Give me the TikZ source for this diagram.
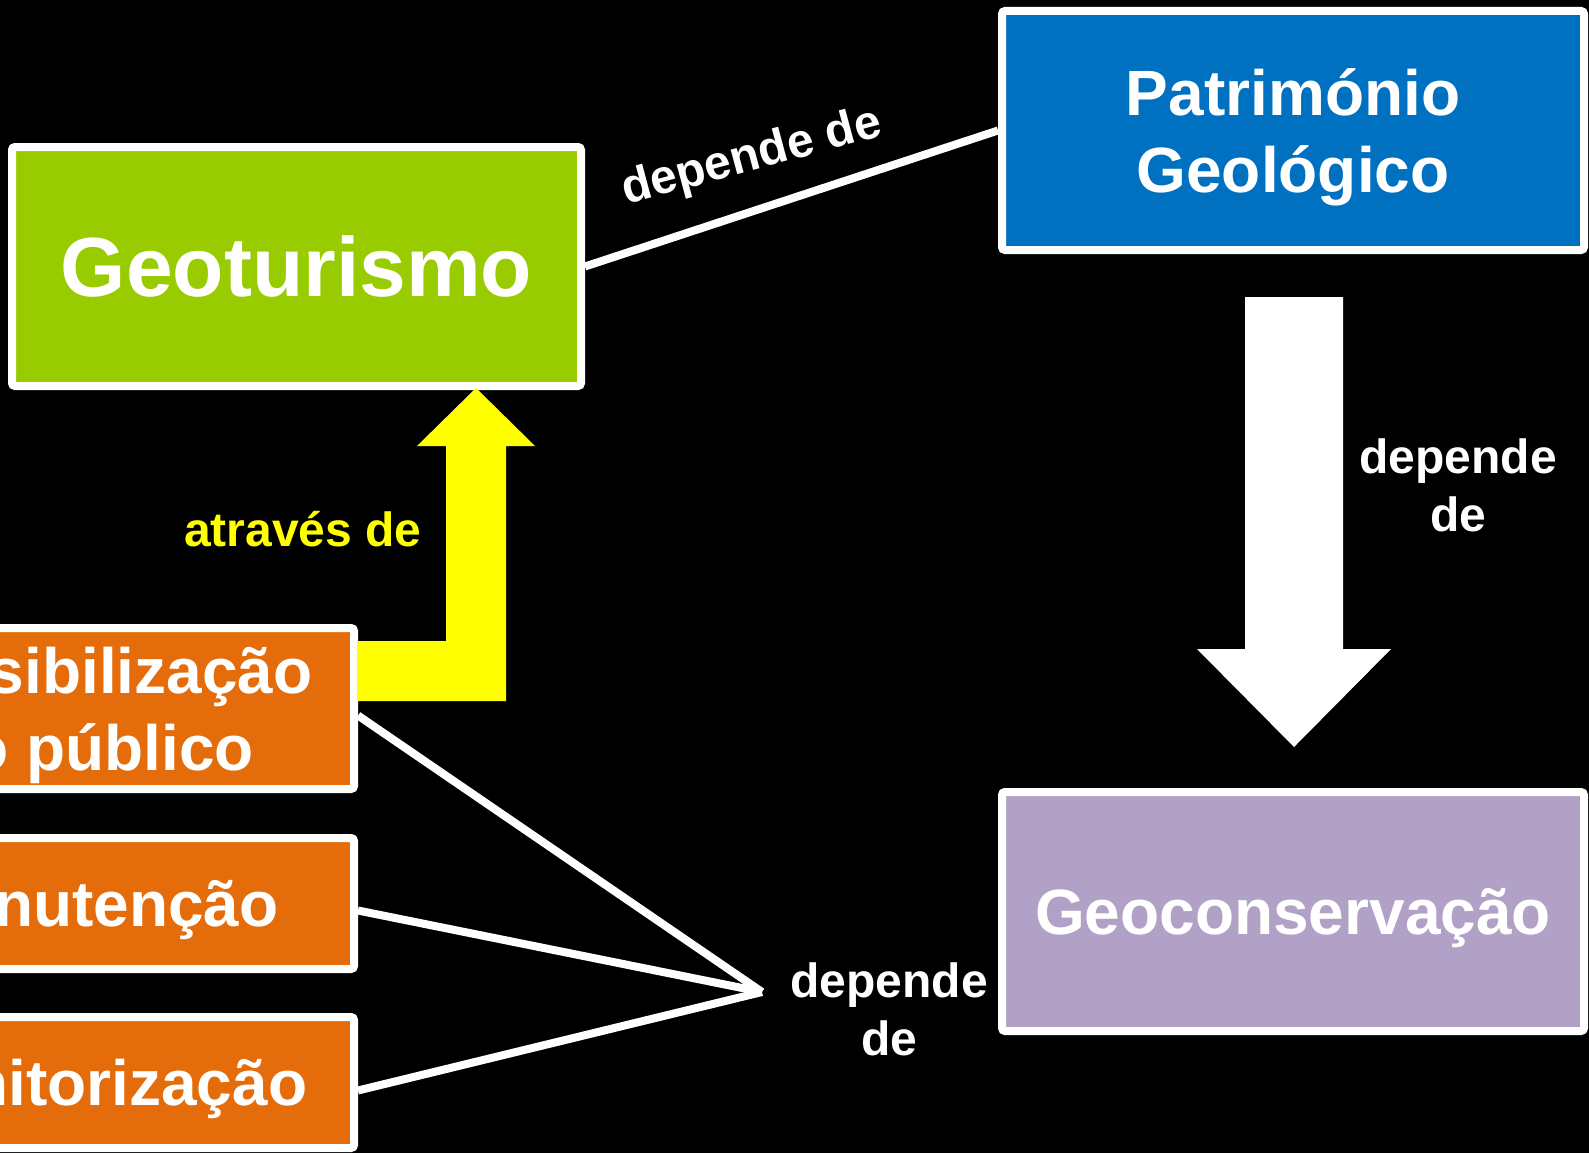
\documentclass[tikz,border=0pt]{standalone}
\usepackage{fontspec}
\setmainfont{Liberation Sans}
\definecolor{geogreen}{HTML}{99CC00}
\definecolor{geoblue}{HTML}{0070C0}
\definecolor{geolilac}{HTML}{B2A1C7}
\definecolor{geoorange}{HTML}{E46C0A}
\definecolor{geoyellow}{HTML}{FFFF00}
\tikzset{
  box/.style={draw=white, line width=8pt, rounded corners=3pt, text=white, text depth=0pt,
    font=\bfseries\fontsize{64}{77}\selectfont, align=center, inner sep=0pt},
  link/.style={draw=white, line width=8pt},
  lbl/.style={text=white, font=\bfseries\fontsize{48}{58}\selectfont, align=center, inner sep=0pt},
}
\begin{document}
\begin{tikzpicture}[x=1pt, y=-1pt]
  % frame and background
  \useasboundingbox (0,0) rectangle (1589,1153);
  \clip (0,0) rectangle (1589,1153);
  \fill[black] (0,0) rectangle (1589,1153);

  % main boxes
  \node[box, fill=geogreen, minimum width=569pt, minimum height=239pt,
    font=\bfseries\fontsize{84}{100}\selectfont] (geo) at (296.5,266.5) {Geoturismo};
  \node[box, fill=geoblue, minimum width=582pt, minimum height=239pt] (pat) at (1293,130.5) {Património\\Geológico};
  \node[box, fill=geolilac, minimum width=582pt, minimum height=239pt] (cons) at (1293,911.5) {Geoconservação};

  % left boxes
  \node[box, fill=geoorange, minimum width=524pt, minimum height=161pt] (sens) at (92,708.5) {Sensibilização\\do público};
  \node[box, fill=geoorange, minimum width=524pt, minimum height=131pt] (manut) at (92,903.5) {Manutenção};
  \node[box, fill=geoorange, minimum width=524pt, minimum height=131pt] (monit) at (92,1082.5) {Monitorização};

  % block arrows
  \fill[geoyellow] (357,641) -- (446,641) -- (446,446) -- (417,446) -- (476,388) -- (535,446)
    -- (506,446) -- (506,701) -- (357,701) -- cycle;
  \fill[white] (1245,297) -- (1343,297) -- (1343,649) -- (1391,649) -- (1294,747) -- (1197,649)
    -- (1245,649) -- cycle;

  % connectors
  \draw[link] (geo.east) -- (pat.west);
  \coordinate (hub) at (762,992);
  \draw[link] ([yshift=-7pt]sens.east) -- (hub);
  \draw[link] ([yshift=-7pt]manut.east) -- (hub);
  \draw[link] ([yshift=-8pt]monit.east) -- (hub);

  % labels
  \node[lbl, rotate=15] (lbltop) at (752,158) {depende de};
  \node[lbl] (lblright) at (1458,485) {depende\\de};
  \node[lbl] (lblbottom) at (889,1009) {depende\\de};
  \node[lbl, text=geoyellow] (lblvia) at (303,529) {através de};
\end{tikzpicture}
\end{document}
